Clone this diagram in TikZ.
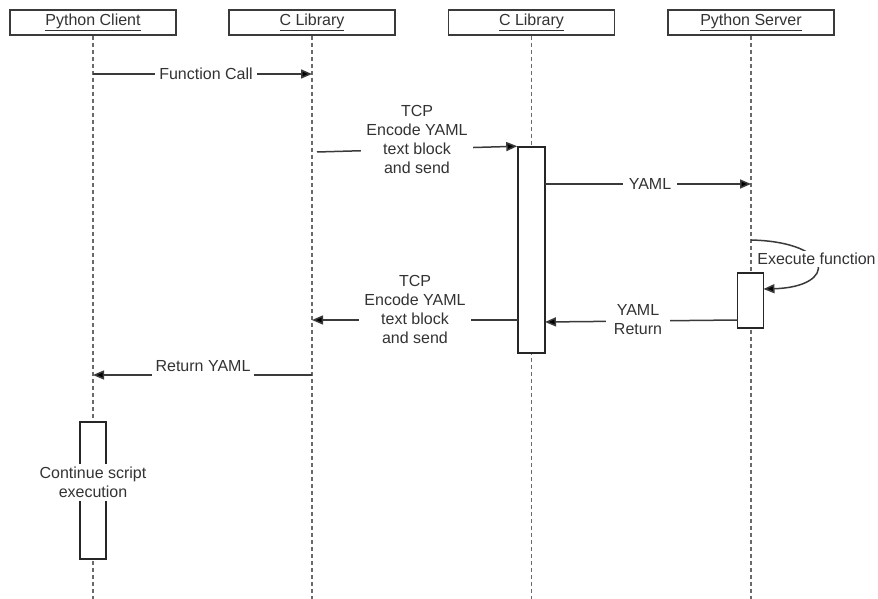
\documentclass[tikz,border=0pt]{standalone}
\usepackage{fontspec}
\setmainfont{Liberation Sans}
\usetikzlibrary{arrows.meta}
\definecolor{txt}{HTML}{333333}
\definecolor{ln}{HTML}{3a3a3a}
\definecolor{lifec}{HTML}{6a6a6a}
\begin{document}
\begin{tikzpicture}[x=1pt,y=-1pt,
  every node/.style={font=\fontsize{16}{19}\selectfont, text=txt},
  headbox/.style={draw=ln, line width=1.5pt, fill=white, minimum width=166pt, minimum height=25pt, inner sep=0pt},
  life/.style={draw=lifec, line width=1.6pt, dash pattern=on 4pt off 3pt},
  actbox/.style={draw=black!85, line width=1.5pt, fill=white, inner sep=0pt},
  msg/.style={draw=ln, line width=1.5pt, -{Triangle[length=11pt,width=9pt,fill=black]}},
  lbl/.style={fill=white, inner sep=4pt, align=center}
]
\useasboundingbox (0,0) rectangle (878,599);
% lifeline ends
\coordinate (e1) at (93,599);
\coordinate (e2) at (312,599);
\coordinate (e3) at (531.5,599);
\coordinate (e4) at (751,599);
% heads
\node[headbox] (h1) at (93,22.5) {\underline{Python Client}};
\node[headbox] (h2) at (312,22.5) {\underline{C Library}};
\node[headbox] (h3) at (531.5,22.5) {\underline{C Library}};
\node[headbox] (h4) at (751,22.5) {\underline{Python Server}};
% lifelines
\draw[life] (h1.south) -- (e1);
\draw[life] (h2.south) -- (e2);
\draw[life] (h3.south) -- (e3);
\draw[life] (h4.south) -- (e4);
% activations
\node[actbox, minimum width=27pt, minimum height=206pt] (a3) at (531.5,250) {};
\node[actbox, minimum width=26pt, minimum height=55pt] (a4) at (750.5,300.5) {};
\node[actbox, minimum width=26pt, minimum height=137pt] (a1) at (93,490.5) {};
% message anchor points
\coordinate (m1s) at (93,74);
\coordinate (m1e) at (312,74);
\coordinate (m2s) at (317,152);
\coordinate (m3s) at (545,184);
\coordinate (m3e) at (751,184);
\coordinate (m4s) at (751,240);
\coordinate (m4e) at (763.5,289);
\coordinate (m5s) at (737.5,320);
\coordinate (m5e) at (545,322);
\coordinate (m6s) at (518,320);
\coordinate (m6e) at (312,320);
\coordinate (m7s) at (312,375);
\coordinate (m7e) at (93,375);
% messages
\draw[msg] (m1s) -- (m1e);
\node[lbl] (l1) at (206,74) {Function Call};
\draw[msg] (m2s) -- (a3.north west);
\node[lbl, inner xsep=5pt] (l2) at (417,139.5) {TCP\\Encode YAML\\text block\\and send};
\draw[msg] (m3s) -- (m3e);
\node[lbl, inner xsep=6pt] (l3) at (650,184) {YAML};
\draw[msg] (m4s) .. controls (835,242) and (838,287) .. (m4e);
\node[lbl, inner sep=2pt] (l4) at (816.5,259) {Execute function};
\draw[msg] (m5s) -- (m5e);
\node[lbl, inner xsep=8pt] (l5) at (638,320) {YAML\\Return};
\draw[msg] (m6s) -- (m6e);
\node[lbl, inner xsep=5pt] (l6) at (415,309.5) {TCP\\Encode YAML\\text block\\and send};
\draw[msg] (m7s) -- (m7e);
\node[lbl, minimum height=22pt] (l7) at (203,366) {Return YAML};
\node[lbl, inner sep=3pt] (l8) at (93,482.5) {Continue script\\execution};
\end{tikzpicture}
\end{document}
